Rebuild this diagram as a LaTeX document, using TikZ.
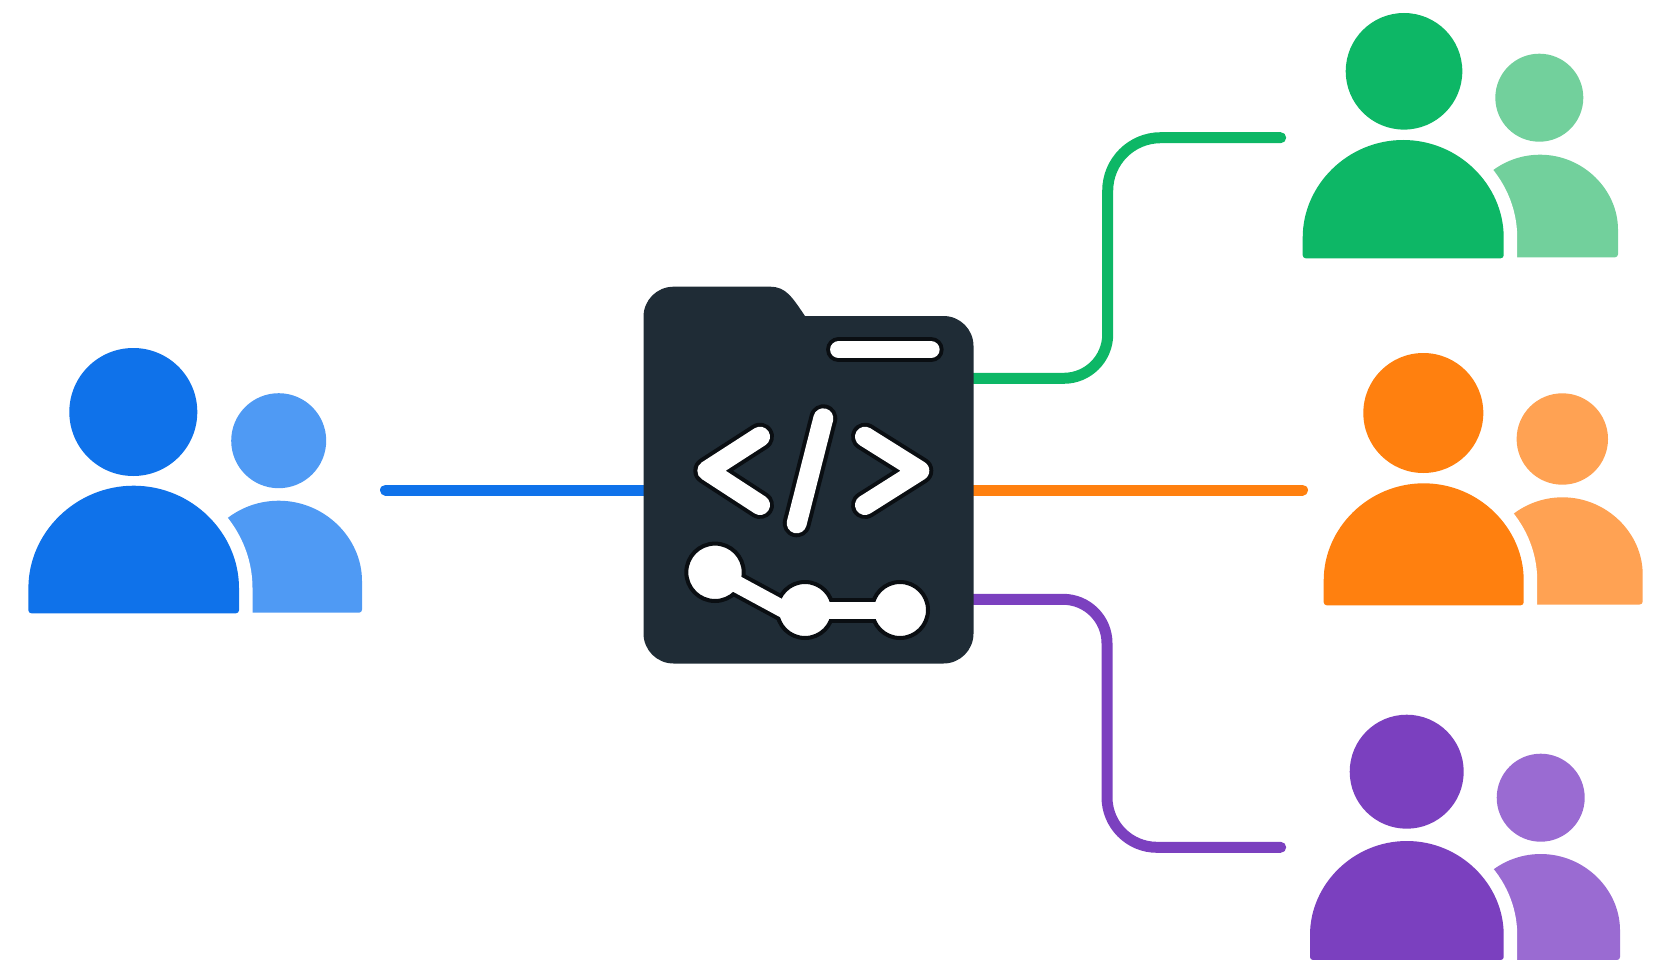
\documentclass[tikz,border=0pt]{standalone}
\usetikzlibrary{backgrounds}

\definecolor{blueDark}{HTML}{0F72EA}
\definecolor{blueLight}{HTML}{4F9AF4}
\definecolor{greenDark}{HTML}{0DB766}
\definecolor{greenLight}{HTML}{72D09C}
\definecolor{orangeDark}{HTML}{FF800F}
\definecolor{orangeLight}{HTML}{FFA253}
\definecolor{purpleDark}{HTML}{7B40BF}
\definecolor{purpleLight}{HTML}{9A6BD2}
\definecolor{repoFill}{HTML}{1F2C36}
\definecolor{repoHalo}{HTML}{0A0E12}

\tikzset{
  head/.style={circle, inner sep=0pt, fill=#1},
  mainbody/.style={fill=#1, rounded corners=3pt, preaction={draw=white, line width=27pt}},
  matebody/.style={fill=#1, rounded corners=3pt},
  link/.style={draw=#1, line width=11pt, line cap=round},
  branchdot/.style={circle, inner sep=0pt, fill=white, draw=repoHalo, line width=4pt, minimum size=#1},
}

% centre x, top, radius, bottom
\newcommand{\userbody}[5]{
  \path[#1] (#2-#4,#5) -- (#2-#4,#3+#4) arc[start angle=180, end angle=360, radius=#4 pt] -- (#2+#4,#5) -- cycle;
}
\newcommand{\glyph}[2]{
  \draw[repoHalo, line width=#1 pt+8pt, line cap=round, line join=round] #2;
  \draw[white, line width=#1 pt, line cap=round, line join=round] #2;
}

\begin{document}
\begin{tikzpicture}[x=1pt, y=1pt, yscale=-1]
\useasboundingbox (0,0) rectangle (1661,960);

\node (repo) [minimum width=330pt, minimum height=377pt, inner sep=0pt] at (808.5,475) {};

% users
\userbody{matebody=blueLight}{278.7}{500.7}{83.3}{612.7}
\userbody{mainbody=blueDark}{133.7}{485.7}{105.3}{613.3}
\node (blueUser) [head=blueDark, minimum size=128pt] at (133.3,412) {};
\node (blueMate) [head=blueLight, minimum size=95pt] at (278.7,440.7) {};

\userbody{matebody=greenLight}{1540}{154.7}{78}{257.3}
\userbody{mainbody=greenDark}{1403.2}{140}{100.5}{258.3}
\node (greenUser) [head=greenDark, minimum size=116.6pt] at (1404,71.3) {};
\node (greenMate) [head=greenLight, minimum size=88pt] at (1539.3,97.7) {};

\userbody{matebody=orangeLight}{1562.5}{497.3}{80.2}{604.5}
\userbody{mainbody=orangeDark}{1423.7}{483.3}{100}{605.3}
\node (orangeUser) [head=orangeDark, minimum size=120pt] at (1423.3,413) {};
\node (orangeMate) [head=orangeLight, minimum size=91.4pt] at (1562.3,439) {};

\userbody{matebody=purpleLight}{1540.7}{854}{79.3}{960}
\userbody{mainbody=purpleDark}{1406.85}{841}{96.85}{960}
\node (purpleUser) [head=purpleDark, minimum size=114pt] at (1406.7,771.7) {};
\node (purpleMate) [head=purpleLight, minimum size=88pt] at (1540.7,797.7) {};

% free ends of the links
\coordinate (blueEnd) at (385.5,490);
\coordinate (greenTap) at (973.5,378.3);
\coordinate (greenEnd) at (1280.7,137.7);
\coordinate (orangeEnd) at (1302.5,490);
\coordinate (purpleTap) at (973.5,599.3);
\coordinate (purpleEnd) at (1280.7,847.3);

% branch mark
\node (branchA) [branchdot=57.4pt] at (715,572.3) {};
\node (branchB) [branchdot=56pt] at (805,610) {};
\node (branchC) [branchdot=56pt] at (900,610) {};
\coordinate (branchJoin) at (805,621);

\begin{scope}[on background layer]
  \draw[link=blueDark] (blueEnd) -- (repo.west |- blueEnd);
  \draw[link=greenDark] (greenTap) [rounded corners=44pt] -- (1107.7,378.3) [rounded corners=53pt] -- (1107.7,137.7) -- (greenEnd);
  \draw[link=orangeDark] (repo.east |- orangeEnd) -- (orangeEnd);
  \draw[link=purpleDark] (purpleTap) [rounded corners=44pt] -- (1107,599.3) [rounded corners=50pt] -- (1107,847.3) -- (purpleEnd);

  \fill[repoFill] (643.5,316.7) arc[start angle=180, end angle=270, radius=30pt]
    -- (770,286.7) .. controls (786,286.7) and (792,297) .. (805,316)
    -- (943.5,316) arc[start angle=270, end angle=360, radius=30pt]
    -- (973.5,633.5) arc[start angle=0, end angle=90, radius=30pt]
    -- (673.5,663.5) arc[start angle=90, end angle=180, radius=30pt] -- cycle;

  \draw[repoHalo, line width=25pt] (branchA.center) -- (branchJoin);
  \draw[repoHalo, line width=25pt] (branchB.center) -- (branchC.center);
\end{scope}

\draw[white, line width=17pt] (branchA.center) -- (branchJoin);
\draw[white, line width=17pt] (branchB.center) -- (branchC.center);

% code mark
\glyph{17.3}{(838.7,349.7) -- (931,349.7)}
\glyph{20}{(760,436.7) -- (707.3,470.7) -- (760,505)}
\glyph{20}{(823.3,418.3) -- (796.7,523.3)}
\glyph{20}{(865,436.7) -- (919.3,470.7) -- (865,505)}
\end{tikzpicture}
\end{document}
